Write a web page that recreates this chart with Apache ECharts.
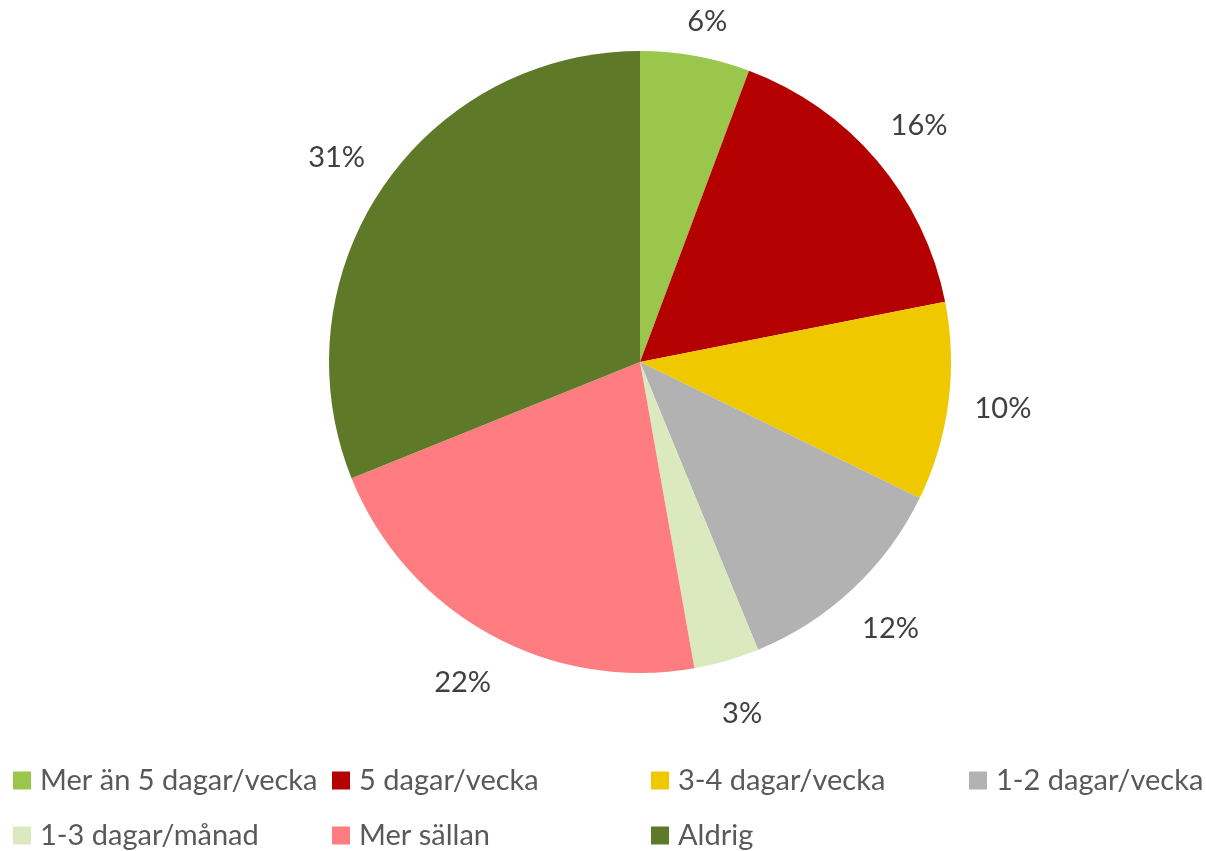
<!DOCTYPE html>
<html>
<head>
<meta charset="utf-8">
<script src="https://cdn.jsdelivr.net/npm/echarts@6/dist/echarts.min.js"></script>
<style>
html,body{margin:0;padding:0;background:#fff;}
#chart{width:1206px;height:851px;}
</style>
</head>
<body>
<div id="chart"></div>
<script>
var categories = ['Mer än 5 dagar/vecka', '5 dagar/vecka', '3-4 dagar/vecka', '1-2 dagar/vecka', '1-3 dagar/månad', 'Mer sällan', 'Aldrig'];
var values = [5.7, 16.2, 10.3, 11.6, 3.4, 21.7, 31.1];
var colors = ['#9BC64C', '#B50000', '#F0C800', '#B2B2B2', '#DAE9BE', '#FF7C80', '#5E7A29'];

var FONT = 'Lato';
var chart = echarts.init(document.getElementById('chart'), null, {renderer: 'canvas'});

var mainData = categories.map(function (c, i) {
  return {name: c, value: values[i], itemStyle: {color: colors[i]}};
});
var ringData = categories.map(function (c, i) {
  var d = {name: c, value: values[i]};
  if (i === 0) { d.label = {offset: [2, 20]}; }
  return d;
});

// legend columns
var cols = [[0, 4], [1, 5], [2, 6], [3]];
var colLeft = [13, 332, 651, 969];
var legends = cols.map(function (idx, k) {
  return {
    orient: 'vertical',
    left: colLeft[k],
    top: 766,
    height: 85,
    padding: 0,
    itemWidth: 18,
    itemHeight: 18,
    itemGap: 26,
    icon: 'rect',
    selectedMode: false,
    data: idx.map(function (i) { return categories[i]; }),
    textStyle: {fontFamily: FONT, fontSize: 29, color: '#595959', lineHeight: 28, padding: [0, 0, 0, 4]}
  };
});

chart.setOption({
  animation: false,
  backgroundColor: '#ffffff',
  color: colors,
  legend: legends,
  series: [
    {
      type: 'pie',
      center: [640, 362],
      radius: [0, 311],
      startAngle: 90,
      clockwise: true,
      data: mainData,
      label: {show: false},
      labelLine: {show: false},
      itemStyle: {borderWidth: 0},
      emphasis: {disabled: true}
    },
    {
      type: 'pie',
      center: [640, 362],
      radius: [311, 415],
      startAngle: 90,
      clockwise: true,
      silent: true,
      data: ringData,
      itemStyle: {color: 'rgba(0,0,0,0)', borderWidth: 0},
      label: {
        show: true,
        position: 'inside',
        formatter: function (p) { return Math.round(p.value) + '%'; },
        fontFamily: FONT,
        fontSize: 29,
        color: '#404040'
      },
      labelLine: {show: false},
      emphasis: {disabled: true}
    }
  ]
});
</script>
</body>
</html>
